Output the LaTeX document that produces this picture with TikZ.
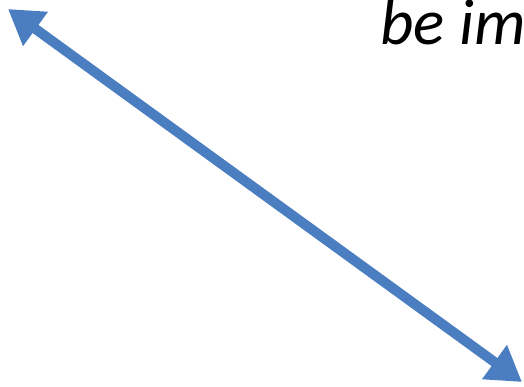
\documentclass[tikz,border=0pt]{standalone}
\usepackage{fontspec}
\setmainfont{Carlito}
\usetikzlibrary{positioning, arrows.meta}
\definecolor{arrowblue}{RGB}{74,126,192}

\begin{document}
\begin{tikzpicture}[
  x=1pt, y=-1pt,
  twoway/.style={{Triangle[length=34pt,width=40pt]}-{Triangle[length=34pt,width=40pt]}, line width=10pt, arrowblue},
  caption/.style={anchor=base west, inner sep=0pt, font=\fontsize{65}{72}\selectfont\itshape}
]
  \useasboundingbox (0,0) rectangle (524,386);
  \clip (0,0) rectangle (524,386);
  \node[caption] (txt) at (380,44) {be im};
  \coordinate (a) at (8,9);
  \coordinate (b) at (522,382);
  \draw[twoway] (a) -- (b);
\end{tikzpicture}
\end{document}
